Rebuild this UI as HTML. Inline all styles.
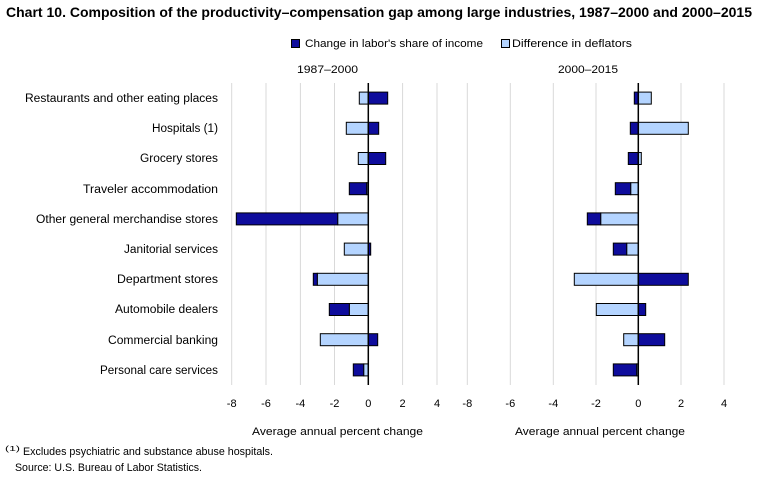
<!DOCTYPE html>
<html><head><meta charset="utf-8"><style>
html,body{margin:0;padding:0;background:#fff;}
svg{display:block;font-family:"Liberation Sans",Arial,sans-serif;}
</style></head><body>
<svg width="766" height="481" viewBox="0 0 766 481" xmlns="http://www.w3.org/2000/svg">
<rect width="766" height="481" fill="#fff"/>
<text x="6" y="17" font-size="13.5" font-weight="bold" fill="#000" textLength="746" lengthAdjust="spacingAndGlyphs">Chart 10. Composition of the productivity–compensation gap among large industries, 1987–2000 and 2000–2015</text>
<!-- legend -->
<rect x="291.5" y="39.5" width="8" height="8" fill="#0e0c9c" stroke="#000" stroke-width="1"/>
<text x="305" y="47" font-size="11" fill="#000" textLength="178" lengthAdjust="spacingAndGlyphs">Change in labor's share of income</text>
<rect x="501.5" y="39.5" width="8" height="8" fill="#b4d4ff" stroke="#000" stroke-width="1"/>
<text x="512" y="47" font-size="11" fill="#000" textLength="120" lengthAdjust="spacingAndGlyphs">Difference in deflators</text>
<text x="297" y="73" font-size="11" fill="#000" textLength="61" lengthAdjust="spacingAndGlyphs">1987–2000</text>
<text x="558" y="73" font-size="11" fill="#000" textLength="60" lengthAdjust="spacingAndGlyphs">2000–2015</text>
<!-- gridlines -->
<g stroke="#d9d9d9" stroke-width="1">
<line x1="231.7" y1="83" x2="231.7" y2="385"/>
<line x1="266" y1="83" x2="266" y2="385"/>
<line x1="300.4" y1="83" x2="300.4" y2="385"/>
<line x1="334.5" y1="83" x2="334.5" y2="385"/>
<line x1="402.6" y1="83" x2="402.6" y2="385"/>
<line x1="437" y1="83" x2="437" y2="385"/>
<line x1="467.3" y1="83" x2="467.3" y2="385"/>
<line x1="510.3" y1="83" x2="510.3" y2="385"/>
<line x1="553.3" y1="83" x2="553.3" y2="385"/>
<line x1="596" y1="83" x2="596" y2="385"/>
<line x1="681" y1="83" x2="681" y2="385"/>
<line x1="724" y1="83" x2="724" y2="385"/>
</g>
<!-- category labels -->
<g font-size="11.5" fill="#000" text-anchor="end">
<text x="218" y="102" textLength="193" lengthAdjust="spacingAndGlyphs">Restaurants and other eating places</text>
<text x="218" y="132" textLength="66" lengthAdjust="spacingAndGlyphs">Hospitals (1)</text>
<text x="218" y="162" textLength="78" lengthAdjust="spacingAndGlyphs">Grocery stores</text>
<text x="218" y="193" textLength="135" lengthAdjust="spacingAndGlyphs">Traveler accommodation</text>
<text x="218" y="223" textLength="182" lengthAdjust="spacingAndGlyphs">Other general merchandise stores</text>
<text x="218" y="253" textLength="94" lengthAdjust="spacingAndGlyphs">Janitorial services</text>
<text x="218" y="283" textLength="101" lengthAdjust="spacingAndGlyphs">Department stores</text>
<text x="218" y="313" textLength="103" lengthAdjust="spacingAndGlyphs">Automobile dealers</text>
<text x="218" y="344" textLength="110" lengthAdjust="spacingAndGlyphs">Commercial banking</text>
<text x="218" y="374" textLength="118" lengthAdjust="spacingAndGlyphs">Personal care services</text>
</g>
<!-- left bars -->
<g stroke="#000" stroke-width="1">
<rect x="359.3" y="92.1" width="9" height="12" fill="#b4d4ff"/>
<rect x="368.3" y="92.1" width="19.4" height="12" fill="#0e0c9c"/>
<rect x="346.3" y="122.3" width="22" height="12" fill="#b4d4ff"/>
<rect x="368.3" y="122.3" width="10.4" height="12" fill="#0e0c9c"/>
<rect x="358.3" y="152.5" width="10" height="12" fill="#b4d4ff"/>
<rect x="368.3" y="152.5" width="17.4" height="12" fill="#0e0c9c"/>
<rect x="366.7" y="182.7" width="1.6" height="12" fill="#b4d4ff"/>
<rect x="349.3" y="182.7" width="17.4" height="12" fill="#0e0c9c"/>
<rect x="337.7" y="212.9" width="30.6" height="12" fill="#b4d4ff"/>
<rect x="236.3" y="212.9" width="101.4" height="12" fill="#0e0c9c"/>
<rect x="344.3" y="243.1" width="24" height="12" fill="#b4d4ff"/>
<rect x="368.3" y="243.1" width="2.4" height="12" fill="#0e0c9c"/>
<rect x="317.3" y="273.3" width="51" height="12" fill="#b4d4ff"/>
<rect x="313.3" y="273.3" width="4" height="12" fill="#0e0c9c"/>
<rect x="349.3" y="303.5" width="19" height="12" fill="#b4d4ff"/>
<rect x="329.3" y="303.5" width="20" height="12" fill="#0e0c9c"/>
<rect x="320.3" y="333.7" width="48" height="12" fill="#b4d4ff"/>
<rect x="368.3" y="333.7" width="9.4" height="12" fill="#0e0c9c"/>
<rect x="363.7" y="363.9" width="4.6" height="12" fill="#b4d4ff"/>
<rect x="353.3" y="363.9" width="10.4" height="12" fill="#0e0c9c"/>
</g>
<!-- right bars -->
<g stroke="#000" stroke-width="1">
<rect x="634.3" y="92.1" width="4" height="12" fill="#0e0c9c"/>
<rect x="638.3" y="92.1" width="13" height="12" fill="#b4d4ff"/>
<rect x="630.3" y="122.3" width="8" height="12" fill="#0e0c9c"/>
<rect x="638.3" y="122.3" width="50" height="12" fill="#b4d4ff"/>
<rect x="628.3" y="152.5" width="10" height="12" fill="#0e0c9c"/>
<rect x="638.3" y="152.5" width="3" height="12" fill="#b4d4ff"/>
<rect x="630.7" y="182.7" width="7.6" height="12" fill="#b4d4ff"/>
<rect x="615.3" y="182.7" width="15.4" height="12" fill="#0e0c9c"/>
<rect x="600.7" y="212.9" width="37.6" height="12" fill="#b4d4ff"/>
<rect x="587.3" y="212.9" width="13.4" height="12" fill="#0e0c9c"/>
<rect x="626.7" y="243.1" width="11.6" height="12" fill="#b4d4ff"/>
<rect x="613.3" y="243.1" width="13.4" height="12" fill="#0e0c9c"/>
<rect x="574.3" y="273.3" width="64" height="12" fill="#b4d4ff"/>
<rect x="638.3" y="273.3" width="50" height="12" fill="#0e0c9c"/>
<rect x="596.3" y="303.5" width="42" height="12" fill="#b4d4ff"/>
<rect x="638.3" y="303.5" width="7.4" height="12" fill="#0e0c9c"/>
<rect x="623.7" y="333.7" width="14.6" height="12" fill="#b4d4ff"/>
<rect x="638.3" y="333.7" width="26.4" height="12" fill="#0e0c9c"/>
<rect x="636.7" y="363.9" width="1.6" height="12" fill="#b4d4ff"/>
<rect x="613.3" y="363.9" width="23.4" height="12" fill="#0e0c9c"/>
</g>
<!-- zero axes -->
<line x1="368.3" y1="83" x2="368.3" y2="385" stroke="#000" stroke-width="1.5"/>
<line x1="638.3" y1="83" x2="638.3" y2="385" stroke="#000" stroke-width="1.5"/>
<!-- tick labels -->
<g font-size="11" fill="#000" text-anchor="middle">
<text x="231.7" y="407">-8</text>
<text x="266" y="407">-6</text>
<text x="300.4" y="407">-4</text>
<text x="334.5" y="407">-2</text>
<text x="368.3" y="407">0</text>
<text x="402.6" y="407">2</text>
<text x="437" y="407">4</text>
<text x="467.3" y="407">-8</text>
<text x="510.3" y="407">-6</text>
<text x="553.3" y="407">-4</text>
<text x="596" y="407">-2</text>
<text x="638.3" y="407">0</text>
<text x="681" y="407">2</text>
<text x="724" y="407">4</text>
</g>
<text x="252" y="435" font-size="11" fill="#000" textLength="171" lengthAdjust="spacingAndGlyphs">Average annual percent change</text>
<text x="515" y="435" font-size="11" fill="#000" textLength="170" lengthAdjust="spacingAndGlyphs">Average annual percent change</text>
<!-- footnotes -->
<text x="5" y="451" font-size="7.5" fill="#000" textLength="15" lengthAdjust="spacingAndGlyphs">(1)</text>
<text x="23" y="455" font-size="11" fill="#000" textLength="250" lengthAdjust="spacingAndGlyphs">Excludes psychiatric and substance abuse hospitals.</text>
<text x="15" y="471" font-size="11" fill="#000" textLength="187" lengthAdjust="spacingAndGlyphs">Source: U.S. Bureau of Labor Statistics.</text>
</svg>
</body></html>
